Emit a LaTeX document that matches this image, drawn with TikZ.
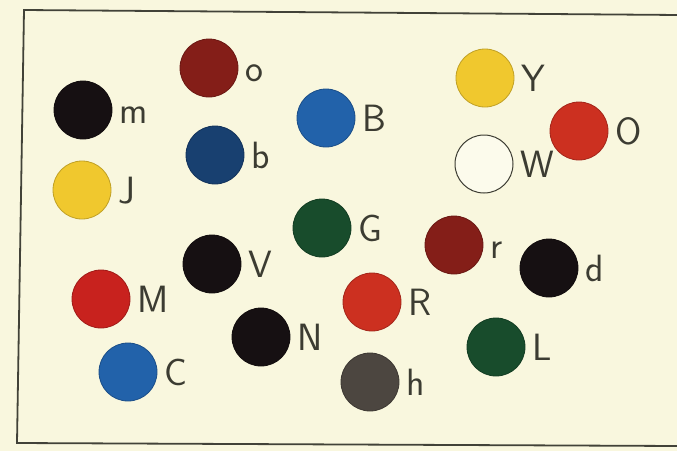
\documentclass[tikz,border=0pt]{standalone}
\usepackage{tikz}
\usetikzlibrary{positioning}
\definecolor{paper}{RGB}{249,247,222}
\definecolor{frame}{RGB}{66,66,56}
\definecolor{ink}{RGB}{60,60,50}
\definecolor{ballblack}{RGB}{22,16,18}
\definecolor{balldarkred}{RGB}{132,30,24}
\definecolor{ballred}{RGB}{200,34,30}
\definecolor{ballorange}{RGB}{204,48,32}
\definecolor{ballnavy}{RGB}{24,64,112}
\definecolor{ballblue}{RGB}{34,98,170}
\definecolor{ballyellow}{RGB}{240,200,46}
\definecolor{ballgreen}{RGB}{24,76,44}
\definecolor{ballgray}{RGB}{76,70,64}
\definecolor{ballwhite}{RGB}{252,251,236}
\begin{document}
\begin{tikzpicture}[x=1pt,y=-1pt,
    ball/.style={circle, minimum size=58pt, inner sep=0pt, draw=#1!80!black, line width=0.8pt, fill=#1},
    balllabel/.style={anchor=base west, inner sep=0pt, text=ink, font=\sffamily\fontsize{38}{38}\selectfont}]
        \useasboundingbox (0,0) rectangle (677,451);
        \fill[paper] (0,0) rectangle (677,451);
        % frame
        \coordinate (TR) at (680,15);
        \coordinate (TL) at (24,10);
        \coordinate (BL) at (17,443);
        \coordinate (BR) at (680,446);
        \path[draw, frame, line width=1.8pt] (TR) -- (TL) -- (BL) -- (BR);
        % balls
        \foreach \n/\x/\y/\col in {
            o/209/68/balldarkred, m/83/110/ballblack, b/215/155/ballnavy,
            B/326/118/ballblue, J/82/190/ballyellow, Y/485/78/ballyellow,
            O/579/131/ballorange, G/322/228/ballgreen, r/454/245/balldarkred,
            d/549/268/ballblack, V/212/264/ballblack, M/101/299/ballred,
            R/372/302/ballorange, N/261/337/ballblack, L/496/347/ballgreen,
            C/128/372/ballblue, h/370/382/ballgray}{
            \node[ball=\col] (ball\n) at (\x,\y) {};
            \node[balllabel] (label\n) at ([shift={(36,13)}]ball\n.center) {\n};
        }
        % white ball
        \node[circle, minimum size=58pt, inner sep=0pt, draw=ink, line width=1pt, fill=ballwhite] (ballW) at (484,164) {};
        \node[balllabel] (labelW) at ([shift={(36,13)}]ballW.center) {W};
\end{tikzpicture}
\end{document}
